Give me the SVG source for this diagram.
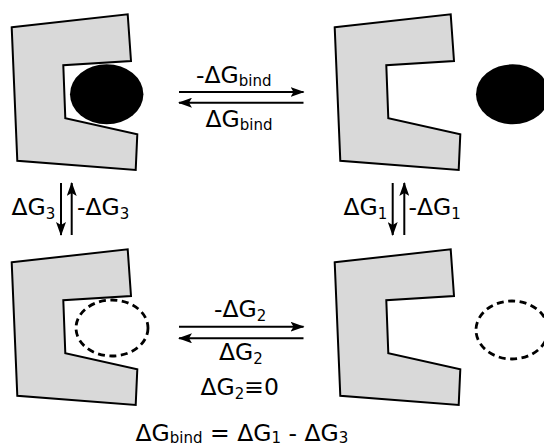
<svg xmlns="http://www.w3.org/2000/svg" width="544" height="447" viewBox="0 0 544 447">
<style>
.prot{fill:#d9d9d9;stroke:#000;stroke-width:2;stroke-linejoin:miter}
.lig{fill:#000}
.ghost{fill:none;stroke:#000;stroke-width:2.8;stroke-dasharray:7 4.5}
.ar{stroke:#000;stroke-width:2;fill:none;marker-end:url(#ah)}
text{font-family:"DejaVu Sans",sans-serif;font-size:23.5px;fill:#000}
.s{font-size:15px}
</style>
<defs>
<marker id="ah" viewBox="0 0 14 10" refX="13" refY="5" markerWidth="14" markerHeight="10" markerUnits="userSpaceOnUse" orient="auto">
<path d="M0,0 L14,5 L0,10 L3,5 Z" fill="#000"/>
</marker>
<polygon id="shape" points="11.7,27.3 127.7,14.3 131,61 63.3,65.3 65.3,118.3 137.3,134.3 135.7,170 17.3,160.7"/>
</defs>
<g id="bound">
<use href="#shape" class="prot"/>
<ellipse class="lig" cx="106.7" cy="94.3" rx="36.7" ry="30"/>
</g>
<g id="unbound">
<use href="#shape" class="prot" transform="translate(323,0)"/>
<ellipse class="lig" cx="512.7" cy="94.3" rx="36.7" ry="30"/>
</g>
<g id="bound-ghost">
<use href="#shape" class="prot" transform="translate(0,235)"/>
<ellipse class="ghost" cx="112" cy="328" rx="36" ry="28"/>
</g>
<g id="unbound-ghost">
<use href="#shape" class="prot" transform="translate(323,235)"/>
<ellipse class="ghost" cx="512" cy="330" rx="36" ry="29"/>
</g>
<g id="connectors">
<line class="ar" x1="179" y1="92" x2="303.5" y2="92"/>
<line class="ar" x1="303.5" y1="102.7" x2="179" y2="102.7"/>
<line class="ar" x1="179" y1="326.7" x2="303.5" y2="326.7"/>
<line class="ar" x1="303.5" y1="338.3" x2="179" y2="338.3"/>
<line class="ar" x1="61" y1="183" x2="61" y2="235"/>
<line class="ar" x1="71.7" y1="235" x2="71.7" y2="183"/>
<line class="ar" x1="392.7" y1="183" x2="392.7" y2="235"/>
<line class="ar" x1="404.3" y1="235" x2="404.3" y2="183"/>
</g>
<g id="labels">
<text x="196" y="83">-ΔG<tspan class="s" dy="3">bind</tspan></text>
<text x="205.5" y="127">ΔG<tspan class="s" dy="3">bind</tspan></text>
<text x="11.5" y="215">ΔG<tspan class="s" dy="4">3</tspan></text>
<text x="77" y="215">-ΔG<tspan class="s" dy="4">3</tspan></text>
<text x="343.5" y="215">ΔG<tspan class="s" dy="4">1</tspan></text>
<text x="408.5" y="215">-ΔG<tspan class="s" dy="4">1</tspan></text>
<text x="214" y="317">-ΔG<tspan class="s" dy="4">2</tspan></text>
<text x="219" y="360">ΔG<tspan class="s" dy="4">2</tspan></text>
<text x="200.5" y="395">ΔG<tspan class="s" dy="4">2</tspan><tspan dy="-4">≡0</tspan></text>
<text x="135.5" y="441">ΔG<tspan class="s" dy="2">bind</tspan><tspan dy="-2"> = ΔG</tspan><tspan class="s" dy="2">1</tspan><tspan dy="-2"> - ΔG</tspan><tspan class="s" dy="2">3</tspan></text>
</g>
</svg>
